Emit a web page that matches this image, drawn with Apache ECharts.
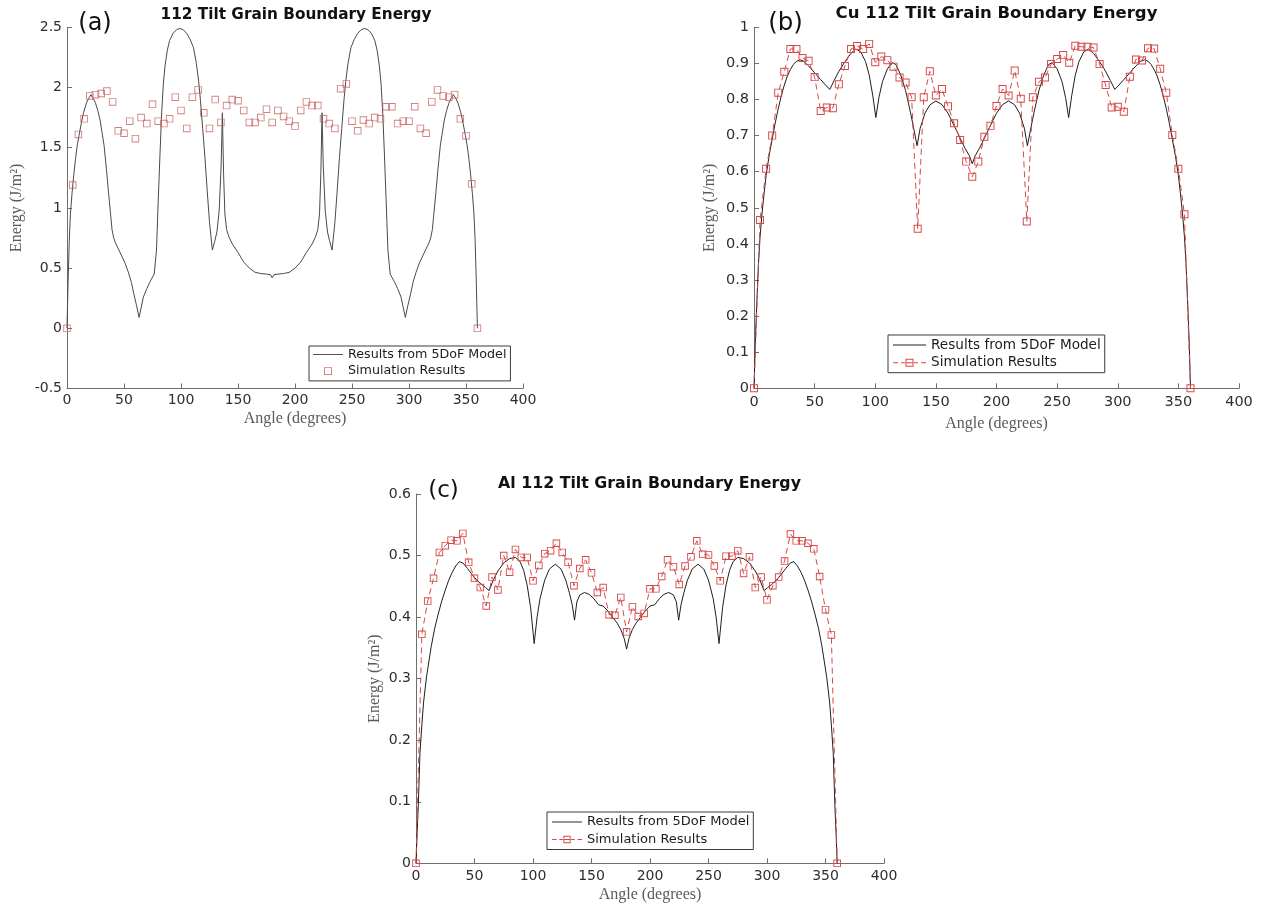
<!DOCTYPE html>
<html>
<head>
<meta charset="utf-8">
<script src="https://cdn.jsdelivr.net/npm/echarts@6/dist/echarts.min.js"></script>
<style>
  html, body { margin: 0; padding: 0; background: #ffffff; }
  #chart { width: 1261px; height: 907px; }
</style>
</head>
<body>
<div id="chart"></div>
<script>
// ---- tick labels ----
const ANGLE_TICKS = [0, 50, 100, 150, 200, 250, 300, 350, 400];
const ENERGY_TICKS_A = [-0.5, 0, 0.5, 1, 1.5, 2, 2.5];
const ENERGY_TICKS_B = [0, 0.1, 0.2, 0.3, 0.4, 0.5, 0.6, 0.7, 0.8, 0.9, 1];
const ENERGY_TICKS_C = [0, 0.1, 0.2, 0.3, 0.4, 0.5, 0.6];

// ---- simulation angles (degrees) ----
const SIM_ANGLES = [
  0, 5, 10, 15, 20, 25, 30, 35, 40, 45, 50, 55, 60, 65, 70, 75, 80, 85, 90, 95,
  100, 105, 110, 115, 120, 125, 130, 135, 140, 145, 150, 155, 160, 165, 170, 175,
  180, 185, 190, 195, 200, 205, 210, 215, 220, 225, 230, 235, 240, 245, 250, 255,
  260, 265, 270, 275, 280, 285, 290, 295, 300, 305, 310, 315, 320, 325, 330, 335,
  340, 345, 350, 355, 360
];

// ---- (a) 112 tilt boundary energy, simulation ----
const SIM_A = [
  0, 1.19, 1.61, 1.74, 1.93, 1.94, 1.95, 1.97, 1.88, 1.64, 1.62, 1.72, 1.575, 1.75, 1.70, 1.86, 1.72, 1.70, 1.74, 1.92,
  1.81, 1.66, 1.92, 1.98, 1.79, 1.66, 1.90, 1.71, 1.85, 1.90, 1.89, 1.81, 1.71, 1.71, 1.75, 1.82,
  1.71, 1.81, 1.76, 1.72, 1.68, 1.81, 1.88, 1.85, 1.85, 1.74, 1.70, 1.66, 1.99, 2.03, 1.72, 1.64,
  1.73, 1.70, 1.75, 1.74, 1.84, 1.84, 1.70, 1.72, 1.72, 1.84, 1.66, 1.62, 1.88, 1.98, 1.93, 1.92,
  1.94, 1.74, 1.60, 1.20, 0
];

// ---- (b) Cu, simulation ----
const SIM_B = [
  0, 0.466, 0.608, 0.700, 0.819, 0.877, 0.940, 0.940, 0.915, 0.907, 0.862, 0.768, 0.778, 0.776, 0.842, 0.893, 0.940, 0.948, 0.940, 0.954,
  0.903, 0.919, 0.909, 0.891, 0.861, 0.847, 0.806, 0.442, 0.806, 0.878, 0.811, 0.829, 0.781, 0.734, 0.688, 0.628,
  0.586, 0.628, 0.697, 0.727, 0.782, 0.829, 0.811, 0.880, 0.802, 0.462, 0.806, 0.849, 0.861, 0.898, 0.912, 0.923,
  0.902, 0.949, 0.946, 0.946, 0.944, 0.898, 0.840, 0.778, 0.780, 0.766, 0.863, 0.911, 0.908, 0.942, 0.941, 0.885,
  0.819, 0.702, 0.608, 0.482, 0
];

// ---- (c) Al, simulation ----
const SIM_C = [
  0, 0.372, 0.426, 0.463, 0.505, 0.516, 0.525, 0.524, 0.536, 0.489, 0.463, 0.448, 0.418, 0.465, 0.444, 0.500, 0.473, 0.510, 0.497, 0.497,
  0.459, 0.484, 0.503, 0.508, 0.520, 0.505, 0.489, 0.451, 0.479, 0.493, 0.472, 0.440, 0.448, 0.404, 0.403, 0.432,
  0.376, 0.417, 0.401, 0.406, 0.446, 0.446, 0.466, 0.493, 0.482, 0.453, 0.483, 0.498, 0.524, 0.502, 0.501, 0.483,
  0.459, 0.499, 0.499, 0.508, 0.471, 0.498, 0.448, 0.465, 0.428, 0.451, 0.465, 0.491, 0.535, 0.524, 0.524, 0.520,
  0.511, 0.466, 0.412, 0.371, 0
];

// ---- 5DoF model curves: [angle, energy] ----
const MODEL_A = [
  [0, 0], [1, 0.40], [2, 0.73], [3, 0.95], [4.4, 1.12], [6, 1.28], [7.5, 1.41], [9, 1.52], [10.5, 1.60], [12.5, 1.70],
  [14.5, 1.79], [17, 1.87], [19, 1.91], [21, 1.94], [23, 1.91], [25, 1.87], [27, 1.81], [29, 1.73], [31, 1.61], [32.5, 1.52],
  [34.5, 1.33], [36.5, 1.12], [38, 0.97], [39.5, 0.82], [41, 0.75], [42.5, 0.71], [45, 0.66], [48, 0.60], [51, 0.54], [54, 0.46],
  [56.5, 0.38], [58.5, 0.29], [61, 0.19], [63.2, 0.09], [65, 0.17], [67, 0.26], [70, 0.33], [73, 0.39], [76.5, 0.45], [78.5, 0.65],
  [80, 1.05], [81.5, 1.43], [83, 1.78], [84.5, 2.03], [86, 2.18], [88, 2.31], [90, 2.39], [93, 2.45], [96, 2.48], [99, 2.49],
  [102, 2.48], [105, 2.45], [108, 2.40], [111, 2.33], [113.5, 2.20], [115.5, 2.05], [117, 1.90], [119, 1.66], [121, 1.42], [123, 1.14],
  [125, 0.88], [127.5, 0.65], [129.5, 0.72], [131.5, 0.80], [133.5, 0.98], [135.2, 1.35], [136.3, 1.79], [137.3, 1.30], [138.5, 0.95], [140, 0.82],
  [142, 0.76], [145, 0.70], [150, 0.63], [155, 0.55], [160, 0.50], [165, 0.465], [170, 0.455], [175, 0.45], [178.5, 0.445], [180, 0.42],
  [181.5, 0.445], [185, 0.45], [190, 0.455], [195, 0.465], [200, 0.50], [205, 0.55], [210, 0.63], [215, 0.70], [218, 0.76], [220, 0.82],
  [221.5, 0.95], [222.7, 1.30], [223.7, 1.79], [224.8, 1.35], [226.5, 0.98], [228.5, 0.80], [230.5, 0.72], [232.5, 0.65], [235, 0.88], [237, 1.14],
  [239, 1.42], [241, 1.66], [243, 1.90], [244.5, 2.05], [246.5, 2.20], [249, 2.33], [252, 2.40], [255, 2.45], [258, 2.48], [261, 2.49],
  [264, 2.48], [267, 2.45], [270, 2.39], [272, 2.31], [274, 2.18], [275.5, 2.03], [277, 1.78], [278.5, 1.43], [280, 1.05], [281.5, 0.65],
  [283.5, 0.45], [287, 0.39], [290, 0.33], [293, 0.26], [295, 0.17], [296.8, 0.09], [299, 0.19], [301.5, 0.29], [303.5, 0.38], [306, 0.46],
  [309, 0.54], [312, 0.60], [315, 0.66], [317.5, 0.71], [319, 0.75], [320.5, 0.82], [322, 0.97], [323.5, 1.12], [325.5, 1.33], [327.5, 1.52],
  [329, 1.61], [331, 1.73], [333, 1.81], [335, 1.87], [337, 1.91], [339, 1.94], [341, 1.91], [343, 1.87], [345.5, 1.79], [347.5, 1.70],
  [349.5, 1.60], [351, 1.52], [352.5, 1.41], [354, 1.28], [355.6, 1.12], [357, 0.95], [358, 0.73], [359, 0.40], [360, 0]
];

const MODEL_B = [
  [0, 0], [1, 0.12], [2, 0.21], [3.6, 0.34], [5, 0.42], [6.5, 0.48], [8, 0.53], [10, 0.59], [12.5, 0.645], [15, 0.69],
  [17.5, 0.735], [20, 0.775], [22.5, 0.81], [25, 0.84], [27.5, 0.865], [30, 0.883], [32.5, 0.897], [35, 0.906], [38, 0.91], [41, 0.906],
  [45, 0.893], [50, 0.874], [55, 0.855], [59, 0.84], [62.5, 0.828], [66, 0.852], [70, 0.878], [75, 0.905], [80, 0.928], [84, 0.94],
  [88, 0.932], [92, 0.905], [95, 0.868], [98, 0.81], [100.5, 0.75], [103, 0.805], [106, 0.85], [110, 0.885], [114, 0.902], [117, 0.897],
  [121, 0.868], [125, 0.825], [129, 0.765], [132, 0.715], [134.5, 0.672], [137, 0.72], [141, 0.762], [145, 0.785], [150, 0.796], [155, 0.786],
  [160, 0.762], [165, 0.728], [170, 0.693], [174, 0.665], [177.5, 0.645], [180, 0.622],
  [182.5, 0.645], [186, 0.665], [190, 0.693], [195, 0.728], [200, 0.762], [205, 0.786], [210, 0.796], [215, 0.785], [219, 0.762], [223, 0.72],
  [225.5, 0.672], [228, 0.715], [231, 0.765], [235, 0.825], [239, 0.868], [243, 0.897], [246, 0.902], [250, 0.885], [254, 0.85], [257, 0.805],
  [259.5, 0.75], [262, 0.81], [265, 0.868], [268, 0.905], [272, 0.932], [276, 0.94], [280, 0.928], [285, 0.905], [290, 0.878], [294, 0.852],
  [297.5, 0.828], [301, 0.84], [305, 0.855], [310, 0.874], [315, 0.893], [319, 0.906], [322, 0.91], [325, 0.906], [327.5, 0.897], [330, 0.883],
  [332.5, 0.865], [335, 0.84], [337.5, 0.81], [340, 0.775], [342.5, 0.735], [345, 0.69], [347.5, 0.645], [350, 0.59], [352, 0.53], [353.5, 0.48],
  [355, 0.42], [356.4, 0.34], [358, 0.21], [359, 0.12], [360, 0]
];

const MODEL_C = [
  [0, 0], [1, 0.05], [2, 0.095], [3.4, 0.18], [5, 0.225], [6.5, 0.262], [9, 0.303], [13, 0.352], [16, 0.382], [19, 0.405],
  [22, 0.426], [25, 0.444], [28, 0.46], [31, 0.473], [34, 0.483], [37, 0.49], [40, 0.488], [44, 0.479], [48, 0.469], [52, 0.46],
  [56, 0.453], [59.5, 0.448], [62.5, 0.443], [66, 0.46], [70, 0.475], [75, 0.488], [80, 0.495], [85, 0.497], [89, 0.49], [92, 0.476],
  [95, 0.452], [98, 0.415], [101, 0.357], [103.5, 0.40], [106, 0.43], [110, 0.46], [114, 0.478], [119, 0.486], [124, 0.478], [128, 0.46],
  [131, 0.44], [133.5, 0.42], [135.5, 0.395], [137.5, 0.425], [140, 0.436], [144, 0.44], [148, 0.437], [152, 0.43], [156, 0.42], [160, 0.418],
  [164, 0.41], [168, 0.40], [172, 0.39], [175, 0.38], [178, 0.365], [180, 0.348],
  [182, 0.365], [185, 0.38], [188, 0.39], [192, 0.40], [196, 0.41], [200, 0.418], [204, 0.42], [208, 0.43], [212, 0.437], [216, 0.44],
  [220, 0.436], [222.5, 0.425], [224.5, 0.395], [226.5, 0.42], [229, 0.44], [232, 0.46], [236, 0.478], [241, 0.486], [246, 0.478], [250, 0.46],
  [254, 0.43], [256.5, 0.40], [259, 0.357], [262, 0.415], [265, 0.452], [268, 0.476], [271, 0.49], [275, 0.497], [280, 0.495], [285, 0.488],
  [290, 0.475], [294, 0.46], [297.5, 0.443], [300.5, 0.448], [304, 0.453], [308, 0.46], [312, 0.469], [316, 0.479], [320, 0.488], [323, 0.49],
  [326, 0.483], [329, 0.473], [332, 0.46], [335, 0.444], [338, 0.426], [341, 0.405], [344, 0.382], [347, 0.352], [351, 0.303], [353.5, 0.262],
  [355, 0.225], [356.6, 0.18], [358, 0.095], [359, 0.05], [360, 0]
];

// ---- text ----
const PANEL_TITLES = ['112 Tilt Grain Boundary Energy', 'Cu 112 Tilt Grain Boundary Energy', 'Al 112 Tilt Grain Boundary Energy'];
const PANEL_TAGS = ['(a)', '(b)', '(c)'];
const X_NAME = 'Angle (degrees)';
const Y_NAME = 'Energy (J/m\u00b2)';
const LEGEND_LABELS = {
  'model-a': 'Results from 5DoF Model', 'sim-a': 'Simulation Results',
  'model-b': 'Results from 5DoF Model', 'sim-b': 'Simulation Results',
  'model-c': 'Results from 5DoF Model', 'sim-c': 'Simulation Results'
};

// ---- styling ----
const SANS = 'DejaVu Sans';
const SERIF = 'Liberation Serif';
const AXIS_COLOR = '#6e6e6e';
const LABEL_COLOR = '#2e2e2e';
const NAME_COLOR = '#5a5a5a';
const SIM_COLOR_A = '#c86060';
const SIM_COLOR = '#d64848';
// hollow square marker (outer square with an inner hole)
const HOLLOW_SQUARE = 'path://M0,0H10V10H0Z M1.2,1.2V8.8H8.8V1.2Z';
const LEGEND_LINE = 'path://M0,0H32V1H0Z';
const LEGEND_DASH_SQUARE = 'path://M0,3.5H5V4.5H0Z M8,3.5H12V4.5H8Z M12.5,0H20.5V8H12.5Z M13.5,1V7H19.5V1Z M13.5,3.5H19.5V4.5H13.5Z M21,3.5H25V4.5H21Z M28,3.5H33V4.5H28Z';

function pairs(xs, ys) { return xs.map((x, i) => [x, ys[i]]); }

function angleAxis(gridIndex, fontSize, margin, nameGap) {
  return {
    type: 'value', gridIndex,
    min: ANGLE_TICKS[0], max: ANGLE_TICKS[ANGLE_TICKS.length - 1], interval: ANGLE_TICKS[1] - ANGLE_TICKS[0],
    axisLine: { show: true, onZero: false, lineStyle: { color: AXIS_COLOR, width: 1 } },
    axisTick: { show: true, inside: true, length: 5, lineStyle: { color: AXIS_COLOR, width: 1 } },
    axisLabel: { color: LABEL_COLOR, fontFamily: SANS, fontSize, margin, showMinLabel: true, showMaxLabel: true },
    splitLine: { show: false },
    name: X_NAME, nameLocation: 'middle', nameGap, nameMoveOverlap: false,
    nameTextStyle: { fontFamily: SERIF, fontSize: 16, color: NAME_COLOR }
  };
}

function energyAxis(gridIndex, ticks, fontSize, nameGap) {
  return {
    type: 'value', gridIndex,
    min: ticks[0], max: ticks[ticks.length - 1], interval: +(ticks[1] - ticks[0]).toFixed(6),
    axisLine: { show: true, onZero: false, lineStyle: { color: AXIS_COLOR, width: 1 } },
    axisTick: { show: true, inside: true, length: 5, lineStyle: { color: AXIS_COLOR, width: 1 } },
    axisLabel: { color: LABEL_COLOR, fontFamily: SANS, fontSize, margin: 5, showMinLabel: true, showMaxLabel: true },
    splitLine: { show: false },
    name: Y_NAME, nameLocation: 'middle', nameGap, nameMoveOverlap: false,
    nameTextStyle: { fontFamily: SERIF, fontSize: 16, color: NAME_COLOR }
  };
}

function legendBox(left, top, keys, icons, fontSize, lineHeight, itemWidth, padding, itemGap) {
  return {
    orient: 'vertical', left, top, padding, itemGap, itemWidth, itemHeight: 8,
    backgroundColor: '#ffffff', borderColor: '#3a3a3a', borderWidth: 1, borderRadius: 0,
    selectedMode: false, symbolKeepAspect: true,
    itemStyle: { borderWidth: 0 },
    textStyle: { fontFamily: SANS, fontSize, lineHeight, color: '#1c1c1c' },
    formatter: name => LEGEND_LABELS[name],
    data: keys.map((k, i) => ({ name: k, icon: icons[i] }))
  };
}

function textEl(x, y, text, fontSize, fontWeight) {
  return {
    type: 'text', x, y, silent: true,
    style: {
      text, fill: '#111111', fontFamily: SANS, fontSize, fontWeight,
      align: 'center', verticalAlign: 'middle', textAlign: 'center', textVerticalAlign: 'middle'
    }
  };
}

const chart = echarts.init(document.getElementById('chart'), null, { renderer: 'canvas' });

chart.setOption({
  animation: false,
  backgroundColor: '#ffffff',
  grid: [
    { left: 67, top: 27.3, width: 456, height: 361.2, containLabel: false, outerBoundsMode: 'none' },
    { left: 754, top: 27.3, width: 485, height: 361, containLabel: false, outerBoundsMode: 'none' },
    { left: 416, top: 494, width: 468, height: 369.3, containLabel: false, outerBoundsMode: 'none' }
  ],
  xAxis: [
    angleAxis(0, 14, 5, 22),
    angleAxis(1, 14.5, 6.5, 27),
    angleAxis(2, 14, 6.5, 23.5)
  ],
  yAxis: [
    energyAxis(0, ENERGY_TICKS_A, 14, 42),
    energyAxis(1, ENERGY_TICKS_B, 14.5, 36),
    energyAxis(2, ENERGY_TICKS_C, 14, 33.5)
  ],
  legend: [
    legendBox(309, 346, ['model-a', 'sim-a'], [LEGEND_LINE, HOLLOW_SQUARE], 12.7, 14, 30, [1.5, 4, 3, 4], 2.4),
    legendBox(888, 335, ['model-b', 'sim-b'], [LEGEND_LINE, LEGEND_DASH_SQUARE], 13.6, 15, 33, [2.5, 4, 2.5, 5], 2.7),
    legendBox(547, 812, ['model-c', 'sim-c'], [LEGEND_LINE, LEGEND_DASH_SQUARE], 13, 15, 30, [2.5, 4, 2.5, 5], 2.5)
  ],
  graphic: [
    textEl(296, 15, PANEL_TITLES[0], 15.3, 'bold'),
    textEl(996.5, 14, PANEL_TITLES[1], 16.5, 'bold'),
    textEl(649.5, 484, PANEL_TITLES[2], 15.8, 'bold'),
    textEl(95, 24, PANEL_TAGS[0], 24, 'normal'),
    textEl(785.5, 24, PANEL_TAGS[1], 24.5, 'normal'),
    textEl(443.5, 491, PANEL_TAGS[2], 23, 'normal')
  ],
  series: [
    {
      type: 'line', name: 'model-a', xAxisIndex: 0, yAxisIndex: 0, data: MODEL_A,
      symbol: 'none', showSymbol: false, z: 2,
      lineStyle: { color: '#4a4a4a', width: 1 }, itemStyle: { color: '#4a4a4a' }
    },
    {
      type: 'scatter', name: 'sim-a', xAxisIndex: 0, yAxisIndex: 0, data: pairs(SIM_ANGLES, SIM_A),
      symbol: HOLLOW_SQUARE, symbolSize: 7.5, z: 3,
      itemStyle: { color: SIM_COLOR_A, borderWidth: 0 }
    },
    {
      type: 'line', name: 'model-b', xAxisIndex: 1, yAxisIndex: 1, data: MODEL_B,
      symbol: 'none', showSymbol: false, z: 2,
      lineStyle: { color: '#1e1e1e', width: 1 }, itemStyle: { color: '#1e1e1e' }
    },
    {
      type: 'line', name: 'sim-b', xAxisIndex: 1, yAxisIndex: 1, data: pairs(SIM_ANGLES, SIM_B),
      symbol: HOLLOW_SQUARE, symbolSize: 8, showSymbol: true, showAllSymbol: true, z: 3,
      lineStyle: { color: SIM_COLOR, width: 1, type: [6, 4] },
      itemStyle: { color: SIM_COLOR, borderWidth: 0 }
    },
    {
      type: 'line', name: 'model-c', xAxisIndex: 2, yAxisIndex: 2, data: MODEL_C,
      symbol: 'none', showSymbol: false, z: 2,
      lineStyle: { color: '#1e1e1e', width: 1 }, itemStyle: { color: '#1e1e1e' }
    },
    {
      type: 'line', name: 'sim-c', xAxisIndex: 2, yAxisIndex: 2, data: pairs(SIM_ANGLES, SIM_C),
      symbol: HOLLOW_SQUARE, symbolSize: 7.5, showSymbol: true, showAllSymbol: true, z: 3,
      lineStyle: { color: SIM_COLOR, width: 1, type: [6, 4] },
      itemStyle: { color: SIM_COLOR, borderWidth: 0 }
    }
  ]
});
</script>
</body>
</html>
